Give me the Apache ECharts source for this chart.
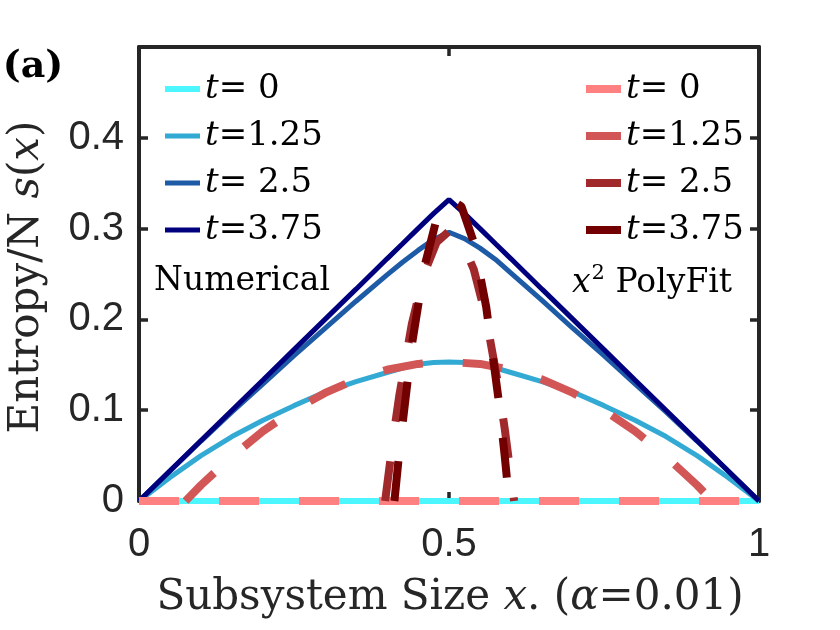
<!DOCTYPE html>
<html lang="en">
<head>
  <meta charset="UTF-8">
  <title>Entropy / N s(x)</title>
  <script src="https://cdn.jsdelivr.net/npm/echarts@6/dist/echarts.min.js"></script>
  <style>
    html, body { margin: 0; padding: 0; background: #fff; }
    #main { width: 840px; height: 630px; }
  </style>
</head>
<body>
<div id="main"></div>
<script type="text/javascript">
// x positions used by the numerical curves
var xNum = [0, 0.05, 0.1, 0.15, 0.2, 0.25, 0.3, 0.35, 0.4, 0.425, 0.45, 0.475, 0.5, 0.525, 0.55, 0.575, 0.6, 0.65, 0.7, 0.75, 0.8, 0.85, 0.9, 0.95, 1];
// numerical entropy
var num0   = [0, 0, 0, 0, 0, 0, 0, 0, 0, 0, 0, 0, 0, 0, 0, 0, 0, 0, 0, 0, 0, 0, 0, 0, 0];
var num125 = [0, 0.026, 0.050, 0.071, 0.089, 0.105, 0.120, 0.1315, 0.1415, 0.1465, 0.1505, 0.1525, 0.153, 0.1525, 0.1505, 0.1465, 0.1415, 0.1315, 0.120, 0.105, 0.089, 0.071, 0.050, 0.026, 0];
var num25  = [0, 0.033, 0.066, 0.098, 0.129, 0.160, 0.190, 0.220, 0.249, 0.263, 0.276, 0.288, 0.296, 0.289, 0.2785, 0.266, 0.251, 0.221, 0.190, 0.160, 0.129, 0.098, 0.066, 0.033, 0];
var num375 = [0, 0.0333, 0.0667, 0.100, 0.1333, 0.1667, 0.200, 0.2333, 0.2667, 0.2833, 0.300, 0.3165, 0.332, 0.3165, 0.300, 0.2833, 0.2667, 0.2333, 0.200, 0.1667, 0.1333, 0.100, 0.0667, 0.0333, 0];

// x^2 polyfit curves (only the part above zero is visible)
var xFit0   = [0, 1];
var fit0    = [0, 0];
var xFit125 = [0.075, 0.1, 0.15, 0.2, 0.25, 0.3, 0.35, 0.4, 0.45, 0.5, 0.55, 0.6, 0.65, 0.7, 0.75, 0.8, 0.85, 0.9, 0.925];
var fit125  = [0, 0.0175, 0.049, 0.077, 0.100, 0.119, 0.134, 0.1445, 0.151, 0.153, 0.151, 0.1445, 0.134, 0.119, 0.100, 0.077, 0.049, 0.0175, 0];
var xFit25  = [0.397, 0.41, 0.42, 0.44, 0.46, 0.48, 0.5, 0.52, 0.54, 0.56, 0.58, 0.59, 0.605];
var fit25   = [0, 0.0695, 0.1168, 0.1948, 0.251, 0.285, 0.297, 0.287, 0.255, 0.2015, 0.1255, 0.079, 0];
var xFit375 = [0.412, 0.42, 0.44, 0.46, 0.48, 0.5, 0.52, 0.54, 0.56, 0.58, 0.59, 0.597];
var fit375  = [0, 0.0553, 0.1716, 0.257, 0.3106, 0.3332, 0.3246, 0.2848, 0.2138, 0.1115, 0.0487, 0];

var tLabels = { num0: '= 0', num125: '=1.25', num25: '= 2.5', num375: '=3.75',
                fit0: '= 0', fit125: '=1.25', fit25: '= 2.5', fit375: '=3.75' };

function pairs(xs, ys) {
  var out = [];
  for (var i = 0; i < xs.length; i++) out.push([xs[i], ys[i]]);
  return out;
}

var serif = 'DejaVu Serif';
var axisCol = '#262626';

function numLine(name, xs, ys, color, w) {
  return {
    name: name, type: 'line', xAxisIndex: 0, yAxisIndex: 0,
    data: pairs(xs, ys), symbol: 'none', clip: true,
    lineStyle: { color: color, width: w },
    itemStyle: { color: color }
  };
}
function fitLine(name, xs, ys, color) {
  return {
    name: name, type: 'line', xAxisIndex: 0, yAxisIndex: 0,
    data: pairs(xs, ys), symbol: 'none', clip: true,
    lineStyle: { color: color, width: 8, type: [40, 40], cap: 'butt' },
    itemStyle: { color: color }
  };
}

var legendText = {
  fontFamily: serif, fontSize: 34, color: '#000', lineHeight: 47,
  rich: {
    i: { fontFamily: serif, fontSize: 34, fontStyle: 'italic', color: '#000', lineHeight: 47 },
    n: { fontFamily: serif, fontSize: 34, color: '#000', lineHeight: 47 }
  }
};
function legendFmt(name) { return '{i|t}{n|' + tLabels[name] + '}'; }

function axisBase(pos) {
  return {
    type: 'value', position: pos,
    axisLine: { show: true, onZero: false, lineStyle: { color: axisCol, width: 4 } },
    axisTick: { show: true, inside: true, length: 9, lineStyle: { color: axisCol, width: 3.5 } },
    splitLine: { show: false }
  };
}

var xBottom = axisBase('bottom');
xBottom.min = 0; xBottom.max = 1; xBottom.interval = 0.5;
xBottom.axisLabel = { fontFamily: 'Liberation Sans', fontSize: 40, color: axisCol, margin: 24 };
var xTop = axisBase('top');
xTop.min = 0; xTop.max = 1; xTop.interval = 0.5;
xTop.axisLabel = { show: false };

var yLeft = axisBase('left');
yLeft.min = 0; yLeft.max = 0.5; yLeft.interval = 0.1;
yLeft.axisLabel = {
  fontFamily: 'Liberation Sans', fontSize: 40, color: axisCol, margin: 15,
  padding: [8, 0, 0, 0],
  formatter: function (v) { return v >= 0.45 ? '' : String(+v.toFixed(1)); }
};
var yRight = axisBase('right');
yRight.min = 0; yRight.max = 0.5; yRight.interval = 0.1;
yRight.axisLabel = { show: false };

var myChart = echarts.init(document.getElementById('main'));
var option = {
  animation: false,
  backgroundColor: '#fff',
  grid: { left: 139, right: 81, top: 47, bottom: 129 },
  xAxis: [xBottom, xTop],
  yAxis: [yLeft, yRight],
  legend: [
    {
      data: ['num0', 'num125', 'num25', 'num375'],
      orient: 'vertical', left: 162, top: 65.5, padding: 0, itemGap: 0,
      itemWidth: 35, itemHeight: 5, selectedMode: false,
      lineStyle: { width: 'inherit' },
      formatter: legendFmt, textStyle: legendText
    },
    {
      data: ['fit0', 'fit125', 'fit25', 'fit375'],
      orient: 'vertical', left: 582, top: 65.5, padding: 0, itemGap: 0,
      itemWidth: 35, itemHeight: 5, selectedMode: false,
      lineStyle: { width: 'inherit' },
      formatter: legendFmt, textStyle: legendText
    }
  ],
  graphic: [
    {
      type: 'text', x: 33, y: 67,
      style: {
        text: '(a)', fontFamily: serif, fontWeight: 'bold', fontSize: 38, fill: '#000',
        textAlign: 'center', textVerticalAlign: 'middle'
      }
    },
    {
      type: 'text', x: 154, y: 281,
      style: { text: 'Numerical', fontFamily: serif, fontSize: 33, fill: '#000', textVerticalAlign: 'middle' }
    },
    {
      type: 'text', x: 572, y: 283,
      style: {
        text: '{i|x}{s|2}{r| PolyFit}', fill: '#000', textVerticalAlign: 'middle',
        rich: {
          i: { fontFamily: serif, fontSize: 33, fontStyle: 'italic', lineHeight: 40 },
          s: { fontFamily: serif, fontSize: 21, verticalAlign: 'top', lineHeight: 40, padding: [0, 0, 12, 1] },
          r: { fontFamily: serif, fontSize: 33, lineHeight: 40 }
        }
      }
    },
    {
      type: 'text', x: 450, y: 598,
      style: {
        text: '{r|Subsystem Size }{i|x}{r|. (}{i|α}{r|=0.01)}',
        fill: axisCol, textAlign: 'center', textVerticalAlign: 'middle',
        rich: {
          r: { fontFamily: serif, fontSize: 42, color: axisCol },
          i: { fontFamily: serif, fontSize: 42, fontStyle: 'italic', color: axisCol }
        }
      }
    },
    {
      type: 'text', x: 27, y: 277, rotation: Math.PI / 2,
      style: {
        text: '{r|Entropy/N }{i|s}{r|(}{i|x}{r|)}',
        fill: axisCol, textAlign: 'center', textVerticalAlign: 'middle',
        rich: {
          r: { fontFamily: serif, fontSize: 42, color: axisCol },
          i: { fontFamily: serif, fontSize: 42, fontStyle: 'italic', color: axisCol }
        }
      }
    }
  ],
  series: [
    numLine('num0', xNum, num0, '#4CF6FF', 6),
    numLine('num125', xNum, num125, '#33AAD4', 5),
    numLine('num25', xNum, num25, '#1E5BA7', 5),
    numLine('num375', xNum, num375, '#00007E', 5),
    fitLine('fit0', xFit0, fit0, '#FF8080'),
    fitLine('fit125', xFit125, fit125, '#D25656'),
    fitLine('fit25', xFit25, fit25, '#A0292C'),
    fitLine('fit375', xFit375, fit375, '#720000')
  ]
};
myChart.setOption(option);
</script>
</body>
</html>
